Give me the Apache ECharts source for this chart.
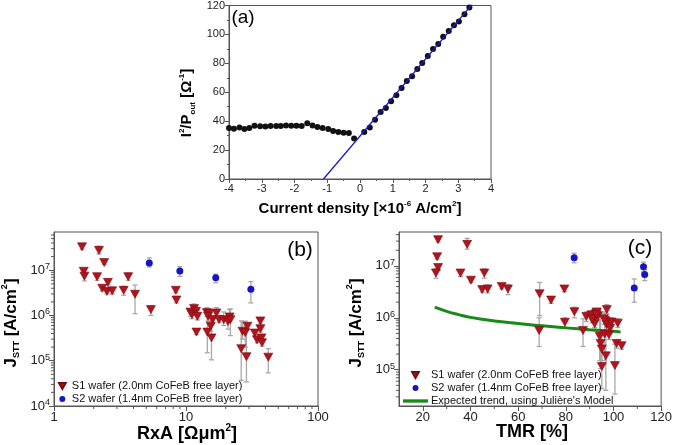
<!DOCTYPE html>
<html>
<head>
<meta charset="utf-8">
<script src="https://cdn.jsdelivr.net/npm/echarts@6/dist/echarts.min.js"></script>
<style>html,body{margin:0;padding:0;background:#fff}#c{width:675px;height:445px}</style>
</head>
<body>
<div id="c"></div>
<script>
// ---------- Panel (a) data ----------
const aX = [-4,-3.85,-3.68,-3.53,-3.38,-3.22,-3.05,-2.89,-2.73,-2.56,-2.42,-2.26,-2.10,-1.94,-1.78,-1.61,-1.45,-1.30,-1.14,-0.97,-0.82,-0.66,-0.50,-0.34,-0.18,
            0.13,0.30,0.46,0.63,0.79,0.95,1.11,1.27,1.43,1.59,1.75,1.90,2.07,2.23,2.39,2.54,2.71,2.87,3.02,3.19,3.34];
const aY = [35.2,34.7,35.7,34.5,35.2,36.8,36.5,36.3,36.6,36.6,36.6,37.0,36.8,36.8,36.6,38.5,37.0,36.0,35.3,34.5,33.2,32.5,32.0,31.8,28.0,
            32.5,35.7,40.9,46.4,49.1,53.7,58.0,62.9,67.7,71.1,76.1,80.2,85.0,90.0,93.3,98.3,102.4,106.3,109.0,114.0,118.6];
const aFitX = [-1.115, 3.6];
const aFitY = [0, 125.5];
const aXTicks = [-4,-3,-2,-1,0,1,2,3,4];
const aYTicks = [0,20,40,60,80,100,120];

// ---------- Panel (b) data ----------
const bS1X  = [1.63,2.19,2.40,1.68,1.70,2.12,3.65,2.56,2.32,2.52,2.76,3.37,4.11,5.42,8.37,8.46,10.8,11.5,11.9,11.1,12.2,12.0,14.4,14.9,14.7,15.9,15.4,14.5,15.6,17.0,17.8,19.3,20.8,21.4,21.7,26.8,28.1,29.2,26.2,28.7,33.2,34.5,36.6,36.6,37.3,37.7,42.0];
const bS1Y  = [3.3e7,2.75e7,1.48e7,9.5e6,7.4e6,7.2e6,7.2e6,5.4e6,4.0e6,3.4e6,3.5e6,3.6e6,2.95e6,1.35e6,3.6e6,2.2e6,1.19e6,1.42e6,1.24e6,1.05e6,9.6e5,4.3e5,1.16e6,1.1e6,9.6e5,8.1e5,5.8e5,4.3e5,3.2e5,1.14e6,8.2e5,8.1e5,7.4e5,9.3e5,8.1e5,4.5e5,4.2e5,5.8e5,1.85e5,1.23e5,4.1e5,2.9e5,7.6e5,5.1e5,3.2e5,2.5e5,1.2e5];
const bS1Lo = [2.9e7,2.3e7,1.35e7,8.2e6,5.8e6,6.0e6,6.0e6,4.8e6,3.5e6,3.0e6,3.0e6,2.8e6,1.1e6,1.0e6,3.2e6,1.9e6,9.5e5,1.1e6,1.0e6,8.5e5,8.0e5,3.8e5,9.5e5,9.0e5,7.5e5,6.5e5,4.5e5,1.5e5,1.05e5,9.5e5,7.0e5,6.0e5,5.0e5,7.5e5,3.6e5,3.0e5,2.0e5,4.8e5,3.7e4,3.4e4,3.5e5,2.5e5,6.5e5,4.3e5,2.7e5,2.1e5,5.4e4];
const bS1Hi = [3.6e7,3.4e7,1.62e7,1.05e7,8.6e6,8.5e6,8.7e6,5.9e6,4.4e6,3.8e6,4.2e6,4.4e6,4.7e6,1.6e6,3.9e6,2.5e6,1.35e6,1.8e6,1.45e6,1.2e6,1.3e6,4.9e5,1.5e6,1.3e6,1.2e6,1.0e6,7.5e5,1.3e6,1.0e6,1.5e6,9.5e5,1.2e6,9.0e5,1.35e6,1.4e6,7.2e5,7.5e5,6.8e5,7.6e5,5.6e5,4.8e5,3.4e5,8.5e5,6.0e5,3.8e5,3.0e5,1.85e5];
const bS2X  = [5.27,8.98,16.8,31.0];
const bS2Y  = [1.45e7,9.6e6,6.8e6,3.8e6];
const bS2Lo = [1.18e7,7.3e6,5.3e6,1.9e6];
const bS2Hi = [1.87e7,1.2e7,8.2e6,5.6e6];
const bXTicks = [1,10,100];
const bYTicks = [1e4,1e5,1e6,1e7];

// ---------- Panel (c) data ----------
const cS1X  = [26.4,26.0,26.4,25.5,38.6,35.8,40.2,45.8,44.9,47.2,53.1,55.7,69.0,73.8,79.4,68.8,79.6,83.6,87.2,88.6,91.4,92.7,92.1,93.5,92.1,94.2,94.6,95.1,95.1,97.2,96.5,97.6,97.1,96.3,98.1,98.6,96.8,100.6,101.3,103.4,101.8,90.7,91.0,93.0,96.0,99.2,92.8];
const cS1Y  = [3.2e7,1.5e7,9.3e6,7.3e6,2.6e7,7.3e6,5.3e6,7.3e6,3.5e6,3.6e6,4.0e6,3.6e6,2.9e6,2.2e6,3.6e6,5.7e5,8.2e5,1.31e6,5.7e5,1.06e6,1.1e6,1.22e6,1.0e6,1.1e6,7.7e5,4.4e5,3.2e5,2.5e5,1.15e5,1.44e6,8.9e5,8.2e5,7.4e5,4.9e5,4.7e5,6.3e5,1.85e5,1.2e5,3.2e5,2.9e5,7.9e5,1.14e6,9.5e5,1.3e6,9.6e5,8.3e5,1.15e6];
const cS1Lo = [2.9e7,1.35e7,8.2e6,5.8e6,2.1e7,6.2e6,4.8e6,5.8e6,3.1e6,3.0e6,3.6e6,2.8e6,1.1e6,1.9e6,3.2e6,2.8e5,6.5e5,1.0e6,2.8e5,8.5e5,9.5e5,1.0e6,8.5e5,9.5e5,6.5e5,1.5e5,1.05e5,1.5e5,4.3e4,1.2e6,7.5e5,6.8e5,6.0e5,1.5e5,3.8e5,5.0e5,4.0e4,3.4e4,2.6e5,2.5e5,6.5e5,9.5e5,8.0e5,1.1e6,7.5e5,7.0e5,9.5e5];
const cS1Hi = [3.6e7,1.65e7,1.05e7,8.8e6,3.4e7,8.5e6,5.8e6,8.8e6,3.9e6,4.3e6,4.4e6,4.4e6,4.8e6,2.5e6,3.9e6,1.0e6,1.0e6,1.6e6,9.6e5,1.3e6,1.3e6,1.45e6,1.2e6,1.3e6,9.5e5,1.2e6,1.0e6,4.5e5,3.1e5,1.8e6,1.05e6,1.0e6,9.0e5,1.3e6,5.8e5,7.5e5,5.0e5,3.1e5,3.8e5,3.4e5,9.6e5,1.35e6,1.15e6,1.5e6,1.2e6,1.0e6,1.4e6];
const cS2X  = [83.5,112.6,113.1,108.7];
const cS2Y  = [1.43e7,9.6e6,6.8e6,3.76e6];
const cS2Lo = [1.15e7,7.6e6,5.2e6,2.0e6];
const cS2Hi = [1.75e7,1.18e7,8.4e6,5.6e6];
const cModelX = [25,30,35,40,50,60,70,80,90,100,103];
const cModelY = [1.6e6,1.33e6,1.15e6,1.02e6,8.7e5,7.8e5,7.0e5,6.4e5,5.9e5,5.5e5,5.3e5];
const cXTicks = [20,40,60,80,100,120];
const cYTicks = [1e5,1e6,1e7];

const S1 = 'S1 wafer (2.0nm CoFeB free layer)';
const S2 = 'S2 wafer (1.4nm CoFeB free layer)';
const TR = "Expected trend, using Julière's Model";

// ---------- styling ----------
const FONT = '"Liberation Sans", Arial, Helvetica, sans-serif';
const AX = '#555';
const RED = '#b3141c';
const BLUE = '#1515c8';
const GREEN = '#178a17';
const TRI_DOWN = 'path://M0,0L10,0L5,9Z';
const LINE_ICON = 'path://M0,0H30V4H0Z';

function logMinors(lo, hi) {
  const out = [];
  for (let e = Math.floor(Math.log10(lo)); e <= Math.ceil(Math.log10(hi)); e++) {
    for (let k = 2; k <= 9; k++) { const v = k * Math.pow(10, e); if (v > lo * 1.0001 && v < hi * 0.9999) out.push(v); }
  }
  return out;
}
function zip(xs, ys) { return xs.map((x, i) => [x, ys[i]]); }

function errSeries(idx, xs, lo, hi) {
  return {
    type: 'custom', xAxisIndex: idx, yAxisIndex: idx, silent: true, z: 1,
    data: xs.map((x, i) => [x, lo[i], hi[i]]),
    encode: { x: 0, y: [1, 2] },
    renderItem: function (params, api) {
      const x = api.value(0);
      const a = api.coord([x, api.value(1)]);
      const b = api.coord([x, api.value(2)]);
      const w = 2.5, st = { stroke: '#a8a8a8', lineWidth: 1.3 };
      return { type: 'group', children: [
        { type: 'line', shape: { x1: a[0], y1: a[1], x2: b[0], y2: b[1] }, style: st },
        { type: 'line', shape: { x1: a[0] - w, y1: a[1], x2: a[0] + w, y2: a[1] }, style: st },
        { type: 'line', shape: { x1: b[0] - w, y1: b[1], x2: b[0] + w, y2: b[1] }, style: st }
      ]};
    }
  };
}
function minorY(idx, anchorX, vals, len) {
  return {
    type: 'custom', xAxisIndex: idx, yAxisIndex: idx, silent: true, clip: false, z: 3,
    data: vals.map(v => [anchorX, v]), encode: { x: 0, y: 1 },
    renderItem: function (params, api) {
      const p = api.coord([api.value(0), api.value(1)]);
      return { type: 'line', shape: { x1: p[0] - len, y1: p[1], x2: p[0], y2: p[1] }, style: { stroke: AX, lineWidth: 1 } };
    }
  };
}
function minorX(idx, anchorY, vals, len) {
  return {
    type: 'custom', xAxisIndex: idx, yAxisIndex: idx, silent: true, clip: false, z: 3,
    data: vals.map(v => [v, anchorY]), encode: { x: 0, y: 1 },
    renderItem: function (params, api) {
      const p = api.coord([api.value(0), api.value(1)]);
      return { type: 'line', shape: { x1: p[0], y1: p[1], x2: p[0], y2: p[1] + len }, style: { stroke: AX, lineWidth: 1 } };
    }
  };
}

const supRich = {
  b: { fontSize: 13, fontFamily: FONT, color: '#222', lineHeight: 16, verticalAlign: 'middle' },
  s: { fontSize: 9, fontFamily: FONT, color: '#222', lineHeight: 9, verticalAlign: 'top' }
};
function powFmt(v) { const e = Math.round(Math.log10(v)); return '{b|10}{s|' + e + '}'; }

function baseAxis(extra) {
  return Object.assign({
    axisLine: { show: true, onZero: false, lineStyle: { color: AX, width: 1 } },
    splitLine: { show: false },
  }, extra);
}

const titleRich = function (size) {
  return {
    m: { fontSize: size, fontWeight: 'bold', fontFamily: FONT, color: '#111', lineHeight: size + 4, verticalAlign: 'middle' },
    p: { fontSize: Math.round(size * 0.55), fontWeight: 'bold', fontFamily: FONT, color: '#111', lineHeight: Math.round(size * 0.55), verticalAlign: 'top' },
    d: { fontSize: Math.round(size * 0.55), fontWeight: 'bold', fontFamily: FONT, color: '#111', lineHeight: Math.round(size * 0.55), verticalAlign: 'bottom' }
  };
};
function gText(x, y, text, rich, rot, extra) {
  return Object.assign({
    type: 'text', x: x, y: y, rotation: rot || 0, z: 100,
    style: { text: text, rich: rich, align: 'center', verticalAlign: 'middle', textAlign: 'center', textVerticalAlign: 'middle' }
  }, extra || {});
}
function legendCfg(items, left, top, iw) {
  return {
    data: items, left: left, top: top, orient: 'vertical', itemWidth: iw, itemHeight: 6, itemGap: 2,
    symbolRotate: 0, symbolKeepAspect: true, selectedMode: false, padding: 0,
    textStyle: { fontSize: 11, lineHeight: 11, color: '#111', fontFamily: FONT, padding: [0, 0, 0, -2] }
  };
}

const chart = echarts.init(document.getElementById('c'), null, { renderer: 'canvas' });

const option = {
  backgroundColor: '#fff',
  animation: false,
  textStyle: { fontFamily: FONT },
  grid: [
    { left: 229, top: 4, width: 262, height: 175, show: true, borderColor: AX, borderWidth: 1, backgroundColor: 'transparent' },
    { left: 54, top: 232, width: 264, height: 174, show: true, borderColor: AX, borderWidth: 1, backgroundColor: 'transparent' },
    { left: 399, top: 232, width: 266, height: 174, show: true, borderColor: AX, borderWidth: 1, backgroundColor: 'transparent' }
  ],
  xAxis: [
    baseAxis({ type: 'value', gridIndex: 0, min: -4, max: 4, interval: 1,
      axisTick: { show: true, length: 4, lineStyle: { color: AX } },
      minorTick: { show: true, splitNumber: 2, length: 2, lineStyle: { color: AX } },
      axisLabel: { fontSize: 11, color: '#222', margin: 4, fontFamily: FONT, customValues: aXTicks } }),
    baseAxis({ type: 'log', gridIndex: 1, min: 1, max: 100, logBase: 10,
      axisTick: { show: true, length: 5, lineStyle: { color: AX }, customValues: bXTicks },
      axisLabel: { fontSize: 13, color: '#222', margin: 5, fontFamily: FONT, customValues: bXTicks } }),
    baseAxis({ type: 'value', gridIndex: 2, min: 10, max: 120,
      axisTick: { show: true, length: 5, lineStyle: { color: AX }, customValues: cXTicks },
      axisLabel: { fontSize: 13, color: '#222', margin: 5, fontFamily: FONT, customValues: cXTicks } })
  ],
  yAxis: [
    baseAxis({ type: 'value', gridIndex: 0, min: 0, max: 120, interval: 20,
      axisTick: { show: true, length: 4, lineStyle: { color: AX } },
      minorTick: { show: true, splitNumber: 2, length: 2, lineStyle: { color: AX } },
      axisLabel: { fontSize: 11, color: '#222', margin: 4, fontFamily: FONT, customValues: aYTicks } }),
    baseAxis({ type: 'log', gridIndex: 1, min: 1e4, max: 7e7, logBase: 10,
      axisTick: { show: true, length: 5, lineStyle: { color: AX }, customValues: bYTicks },
      axisLabel: { margin: 4, customValues: bYTicks, formatter: powFmt, rich: supRich } }),
    baseAxis({ type: 'log', gridIndex: 2, min: 2e4, max: 4.5e7, logBase: 10,
      axisTick: { show: true, length: 5, lineStyle: { color: AX }, customValues: cYTicks },
      axisLabel: { margin: 4, customValues: cYTicks, formatter: powFmt, rich: supRich } })
  ],
  legend: [
    legendCfg([{ name: S1, icon: TRI_DOWN }, { name: S2, icon: 'circle' }], 58, 380.5, 13),
    legendCfg([{ name: S1, icon: TRI_DOWN }, { name: S2, icon: 'circle' }, { name: TR, icon: LINE_ICON }], 403, 369.5, 25)
  ],
  graphic: [
    gText(243, 18, '{m|(a)}', { m: { fontSize: 19, fontFamily: FONT, color: '#111' } }),
    gText(300, 250, '{m|(b)}', { m: { fontSize: 21, fontFamily: FONT, color: '#111' } }),
    gText(640, 248, '{m|(c)}', { m: { fontSize: 21, fontFamily: FONT, color: '#111' } }),
    gText(187, 103, '{m|I}{p|2}{m|/P}{d|out}{m| [Ω}{p|-1}{m|]}', titleRich(15), Math.PI / 2),
    gText(360, 209, '{m|Current density [×10}{p|-6}{m| A/cm}{p|2}{m|]}', titleRich(15)),
    gText(11, 323, '{m|J}{d|STT}{m| [A/cm}{p|2}{m|]}', titleRich(17), Math.PI / 2),
    gText(187, 434, '{m|RxA [Ωμm}{p|2}{m|]}', titleRich(18)),
    gText(356, 323, '{m|J}{d|STT}{m| [A/cm}{p|2}{m|]}', titleRich(17), Math.PI / 2),
    gText(532, 432, '{m|TMR [%]}', titleRich(18))
  ],
  series: [
    // panel a
    { type: 'scatter', xAxisIndex: 0, yAxisIndex: 0, data: zip(aX, aY), symbol: 'circle', symbolSize: 6,
      itemStyle: { color: '#111', opacity: 1 }, z: 2 },
    { type: 'line', xAxisIndex: 0, yAxisIndex: 0, data: zip(aFitX, aFitY), symbol: 'none', clip: true,
      lineStyle: { color: '#1a1acc', width: 1.3 }, z: 3 },
    // panel b
    errSeries(1, bS1X, bS1Lo, bS1Hi),
    errSeries(1, bS2X, bS2Lo, bS2Hi),
    { type: 'scatter', name: S1, xAxisIndex: 1, yAxisIndex: 1, data: zip(bS1X, bS1Y), symbol: 'triangle', symbolRotate: 180,
      symbolSize: [9, 8], itemStyle: { color: RED, borderColor: '#7a0a10', borderWidth: 0.6, opacity: 1 }, z: 4 },
    { type: 'scatter', name: S2, xAxisIndex: 1, yAxisIndex: 1, data: zip(bS2X, bS2Y), symbol: 'circle',
      symbolSize: 7, itemStyle: { color: BLUE, opacity: 1 }, z: 4 },
    minorY(1, 1, logMinors(1e4, 7e7), 3),
    minorX(1, 1e4, logMinors(1, 100), 3),
    // panel c
    errSeries(2, cS1X, cS1Lo, cS1Hi),
    errSeries(2, cS2X, cS2Lo, cS2Hi),
    { type: 'scatter', name: S1, xAxisIndex: 2, yAxisIndex: 2, data: zip(cS1X, cS1Y), symbol: 'triangle', symbolRotate: 180,
      symbolSize: [9, 8], itemStyle: { color: RED, borderColor: '#7a0a10', borderWidth: 0.6, opacity: 1 }, z: 4 },
    { type: 'scatter', name: S2, xAxisIndex: 2, yAxisIndex: 2, data: zip(cS2X, cS2Y), symbol: 'circle',
      symbolSize: 7, itemStyle: { color: BLUE, opacity: 1 }, z: 4 },
    { type: 'line', name: TR, xAxisIndex: 2, yAxisIndex: 2, data: zip(cModelX, cModelY), symbol: 'none', smooth: true,
      lineStyle: { color: GREEN, width: 3 }, itemStyle: { color: GREEN }, z: 3 },
    minorY(2, 10, logMinors(2e4, 4.5e7), 3),
    minorX(2, 2e4, [30, 50, 70, 90, 110], 3)
  ]
};
chart.setOption(option);
</script>
</body>
</html>
